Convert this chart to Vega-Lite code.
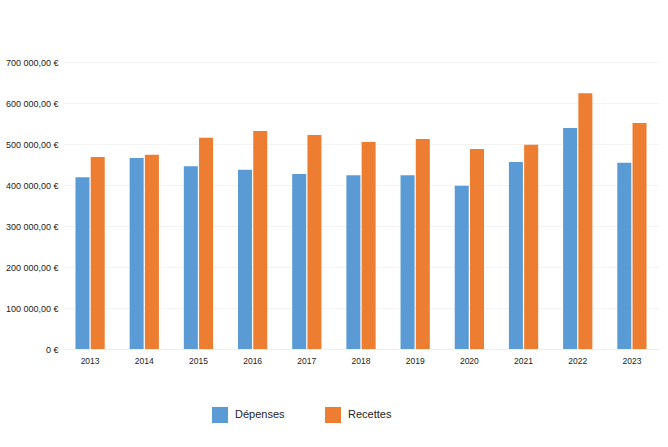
{
  "$schema": "https://vega.github.io/schema/vega-lite/v6.json",
  "width": 596,
  "height": 287,
  "autosize": {"type": "none"},
  "padding": {"left": 63, "top": 62, "right": 9, "bottom": 98},
  "background": "white",
  "config": {
    "view": {"stroke": null},
    "font": "Liberation Sans, Arial, sans-serif"
  },
  "data": {
    "values": [
      {"annee": "2013", "serie": "Dépenses", "montant": 419000},
      {"annee": "2013", "serie": "Recettes", "montant": 468000},
      {"annee": "2014", "serie": "Dépenses", "montant": 466000},
      {"annee": "2014", "serie": "Recettes", "montant": 474000},
      {"annee": "2015", "serie": "Dépenses", "montant": 446000},
      {"annee": "2015", "serie": "Recettes", "montant": 515000},
      {"annee": "2016", "serie": "Dépenses", "montant": 437000},
      {"annee": "2016", "serie": "Recettes", "montant": 532000},
      {"annee": "2017", "serie": "Dépenses", "montant": 427000},
      {"annee": "2017", "serie": "Recettes", "montant": 522000},
      {"annee": "2018", "serie": "Dépenses", "montant": 424000},
      {"annee": "2018", "serie": "Recettes", "montant": 505000},
      {"annee": "2019", "serie": "Dépenses", "montant": 424000},
      {"annee": "2019", "serie": "Recettes", "montant": 512000},
      {"annee": "2020", "serie": "Dépenses", "montant": 398000},
      {"annee": "2020", "serie": "Recettes", "montant": 488000},
      {"annee": "2021", "serie": "Dépenses", "montant": 456000},
      {"annee": "2021", "serie": "Recettes", "montant": 498000},
      {"annee": "2022", "serie": "Dépenses", "montant": 539000},
      {"annee": "2022", "serie": "Recettes", "montant": 624000},
      {"annee": "2023", "serie": "Dépenses", "montant": 454000},
      {"annee": "2023", "serie": "Recettes", "montant": 551000}
    ]
  },
  "mark": {"type": "bar"},
  "encoding": {
    "x": {
      "field": "annee",
      "type": "nominal",
      "scale": {"paddingInner": 0.46, "paddingOuter": 0.23},
      "axis": {
        "title": null,
        "labelAngle": 0,
        "labelFontSize": 8.5,
        "labelColor": "#222222",
        "ticks": false,
        "domainColor": "#eeeeee",
        "labelPadding": 7
      }
    },
    "xOffset": {"field": "serie", "type": "nominal", "scale": {"paddingInner": 0.08}},
    "y": {
      "field": "montant",
      "type": "quantitative",
      "scale": {"domain": [0, 700000]},
      "axis": {
        "title": null,
        "values": [0, 100000, 200000, 300000, 400000, 500000, 600000, 700000],
        "labelExpr": "datum.value == 0 ? '0 €' : format(datum.value / 1000, 'd') + ' 000,00 €'",
        "labelFontSize": 9,
        "labelColor": "#222222",
        "ticks": false,
        "domain": false,
        "gridColor": "#f3f3f3",
        "labelPadding": 5
      }
    },
    "color": {
      "field": "serie",
      "type": "nominal",
      "scale": {"domain": ["Dépenses", "Recettes"], "range": ["#5b9bd5", "#ed7d31"]},
      "legend": {
        "title": null,
        "orient": "none",
        "direction": "horizontal",
        "legendX": 149,
        "legendY": 345,
        "symbolType": "square",
        "symbolSize": 256,
        "symbolStrokeWidth": 0,
        "symbolOpacity": 1,
        "labelFontSize": 11,
        "labelColor": "#222222",
        "labelOffset": 7,
        "columnPadding": 40
      }
    }
  }
}
